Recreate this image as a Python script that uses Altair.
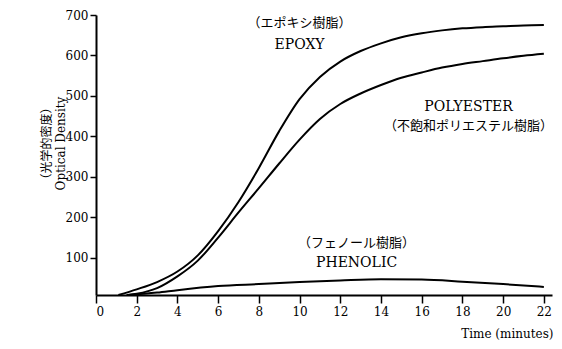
import altair as alt
import pandas as pd

FONT = "DejaVu Serif, Noto Sans CJK JP"
JFONT = "Noto Sans CJK JP"

epoxy_t = [1.1, 2, 3, 4, 5, 6, 7, 8, 9, 10, 11, 12, 13, 14, 15, 16, 17, 18, 19, 20, 21, 22]
epoxy_v = [8, 22, 40, 66, 106, 166, 238, 322, 413, 492, 547, 585, 611, 630, 645, 655, 662, 667, 670, 672, 674, 675]

poly_t = [1.6, 2, 3, 4, 5, 6, 7, 8, 9, 10, 11, 12, 13, 14, 15, 16, 17, 18, 19, 20, 21, 22]
poly_v = [8, 11, 25, 54, 93, 150, 212, 272, 333, 392, 443, 480, 506, 527, 545, 558, 570, 579, 586, 593, 599, 604]

phen_t = [1.5, 3, 4, 6, 8, 10, 12, 14, 16, 18, 20, 22]
phen_v = [8, 14, 20, 30, 35, 40, 44, 47, 46, 41, 35, 28]

x_ticks = [0, 2, 4, 6, 8, 10, 12, 14, 16, 18, 20, 22]
y_ticks = [100, 200, 300, 400, 500, 600, 700]

en_text = ["EPOXY", "POLYESTER", "PHENOLIC"]
en_t = [10, 18.3, 12.8]
en_v = [626, 473, 87]

jp_text = ["（エポキシ樹脂）", "（不飽和ポリエステル樹脂）", "（フェノール樹脂）"]
jp_t = [10, 18.3, 12.8]
jp_v = [680, 426, 136]

rows = []
for name, ts, vs in [("EPOXY", epoxy_t, epoxy_v), ("POLYESTER", poly_t, poly_v), ("PHENOLIC", phen_t, phen_v)]:
    for t, v in zip(ts, vs):
        rows.append({"series": name, "t": t, "v": v})
df = pd.DataFrame(rows)
en_df = pd.DataFrame({"text": en_text, "t": en_t, "v": en_v})
jp_df = pd.DataFrame({"text": jp_text, "t": jp_t, "v": jp_v})

xscale = alt.Scale(domain=[0, 22.4], nice=False)
yscale = alt.Scale(domain=[8, 700], nice=False, zero=False)

lines = alt.Chart(df).mark_line(color="black", strokeWidth=2, interpolate="monotone").encode(
    x=alt.X("t:Q", scale=xscale, axis=alt.Axis(
        values=x_ticks, title="Time (minutes)", titleAnchor="end", titleAlign="right",
        titleX=457, titleY=38, titleBaseline="middle", titleFont=FONT, titleFontSize=12,
        titleFontWeight="normal", titleColor="black",
        labelFont=FONT, labelFontSize=12, labelColor="black",
        tickSize=8, tickWidth=1.5, tickColor="black", labelPadding=3,
        domainColor="black", domainWidth=2, grid=False)),
    y=alt.Y("v:Q", scale=yscale, axis=alt.Axis(
        values=y_ticks, title=["（光学的密度）", "Optical Density"], titleAngle=270,
        titleX=-50, titleY=128, titleAlign="center", titleBaseline="middle",
        titleLineHeight=14,
        titleFont=FONT, titleFontSize=12, titleFontWeight="normal", titleColor="black",
        labelFont=FONT, labelFontSize=12, labelColor="black",
        tickSize=6, tickWidth=1.5, tickColor="black", labelPadding=2,
        domainColor="black", domainWidth=2, grid=False)),
    detail="series:N",
)

en_texts = alt.Chart(en_df).mark_text(font=FONT, fontSize=14, color="black").encode(
    x=alt.X("t:Q", scale=xscale),
    y=alt.Y("v:Q", scale=yscale),
    text="text:N",
)
jp_texts = alt.Chart(jp_df).mark_text(font=JFONT, fontSize=13, color="black").encode(
    x=alt.X("t:Q", scale=xscale),
    y=alt.Y("v:Q", scale=yscale),
    text="text:N",
)

chart = alt.layer(lines, en_texts, jp_texts).properties(
    width=456, height=280,
    autosize=alt.AutoSizeParams(type="none"),
    padding={"left": 88, "top": 7, "right": 2, "bottom": 46},
).configure_view(stroke=None)

chart.save("out.html", embed_options={"renderer": "svg", "actions": False})
